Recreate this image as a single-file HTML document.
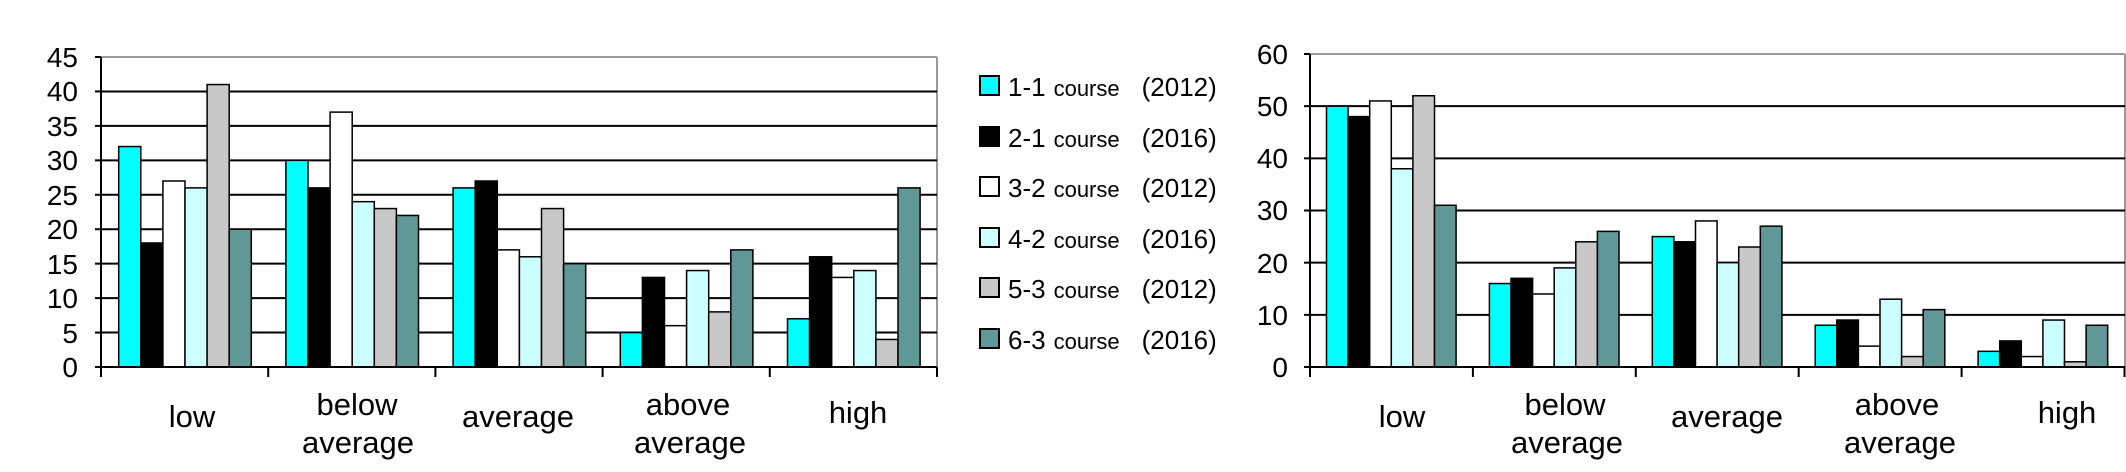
<!DOCTYPE html>
<html><head><meta charset="utf-8"><style>
html,body{margin:0;padding:0;background:#fff;}
svg{display:block;font-family:"Liberation Sans",sans-serif;}
</style></head><body>
<svg id="s" width="2126" height="472" viewBox="0 0 2126 472" xmlns="http://www.w3.org/2000/svg">
<g id="grid"></g>
<g id="bars"></g>
<g font-size="28" text-anchor="end" fill="#000">
<text x="78" y="67">45</text><text x="78" y="101">40</text><text x="78" y="136">35</text><text x="78" y="170">30</text><text x="78" y="205">25</text><text x="78" y="239">20</text><text x="78" y="274">15</text><text x="78" y="308">10</text><text x="78" y="343">5</text><text x="78" y="377">0</text>
<text x="1288" y="64">60</text><text x="1288" y="116">50</text><text x="1288" y="168">40</text><text x="1288" y="220">30</text><text x="1288" y="273">20</text><text x="1288" y="325">10</text><text x="1288" y="377">0</text>
</g>
<g font-size="31" text-anchor="middle" fill="#000">
<text x="192" y="427">low</text>
<text x="357" y="415">below</text><text x="358" y="453">average</text>
<text x="518" y="427">average</text>
<text x="688" y="415">above</text><text x="690" y="453">average</text>
<text x="858" y="423">high</text>
<text x="1402" y="427">low</text>
<text x="1565" y="415">below</text><text x="1567" y="453">average</text>
<text x="1727" y="427">average</text>
<text x="1897" y="415">above</text><text x="1900" y="453">average</text>
<text x="2067" y="423">high</text>
</g>
<g fill="#000">
<rect x="980" y="76" width="19" height="19" fill="#00ffff" stroke="#000" stroke-width="2"/>
<rect x="980" y="127" width="19" height="19" fill="#000" stroke="#000" stroke-width="2"/>
<rect x="980" y="177" width="19" height="19" fill="#fff" stroke="#000" stroke-width="2"/>
<rect x="980" y="228" width="19" height="19" fill="#ccffff" stroke="#000" stroke-width="2"/>
<rect x="980" y="278" width="19" height="19" fill="#c8c8c8" stroke="#000" stroke-width="2"/>
<rect x="980" y="329" width="19" height="19" fill="#5f9896" stroke="#000" stroke-width="2"/>
<text x="1008" y="96" font-size="26">1-1<tspan font-size="22" dx="8">course</tspan><tspan dx="22">(2012)</tspan></text>
<text x="1008" y="147" font-size="26">2-1<tspan font-size="22" dx="8">course</tspan><tspan dx="22">(2016)</tspan></text>
<text x="1008" y="197" font-size="26">3-2<tspan font-size="22" dx="8">course</tspan><tspan dx="22">(2012)</tspan></text>
<text x="1008" y="248" font-size="26">4-2<tspan font-size="22" dx="8">course</tspan><tspan dx="22">(2016)</tspan></text>
<text x="1008" y="298" font-size="26">5-3<tspan font-size="22" dx="8">course</tspan><tspan dx="22">(2012)</tspan></text>
<text x="1008" y="349" font-size="26">6-3<tspan font-size="22" dx="8">course</tspan><tspan dx="22">(2016)</tspan></text>
</g>
</svg>
<script>
var NS="http://www.w3.org/2000/svg";
var grid=document.getElementById('grid'),bars=document.getElementById('bars');
function el(p,t,a){var e=document.createElementNS(NS,t);for(var k in a)e.setAttribute(k,a[k]);p.appendChild(e);return e;}
var cols=["#00ffff","#000000","#ffffff","#ccffff","#c8c8c8","#5f9896"];
function chart(x0,x1,y0,ytop,max,step,cw,off,bw,data){
  var sc=(y0-ytop)/max;
  el(grid,'line',{x1:x0,y1:ytop,x2:x1,y2:ytop,stroke:'#999','stroke-width':2});
  el(grid,'line',{x1:x1,y1:ytop,x2:x1,y2:y0,stroke:'#999','stroke-width':2});
  for(var v=step;v<max;v+=step){var y=y0-v*sc;el(grid,'line',{x1:x0,y1:y,x2:x1,y2:y,stroke:'#000','stroke-width':2});}
  for(var v=0;v<=max;v+=step){var y=y0-v*sc;el(grid,'line',{x1:x0-6,y1:y,x2:x0,y2:y,stroke:'#000','stroke-width':2});}
  for(var c=0;c<5;c++)for(var i=0;i<6;i++){var h=data[c][i]*sc;
    el(bars,'rect',{x:x0+c*cw+off+i*bw,y:y0-h,width:bw,height:h,fill:cols[i],stroke:'#000','stroke-width':1.5});}
  el(bars,'line',{x1:x0,y1:ytop,x2:x0,y2:y0,stroke:'#000','stroke-width':2});
  el(bars,'line',{x1:x0,y1:y0,x2:x1,y2:y0,stroke:'#000','stroke-width':2});
  for(var c=0;c<=5;c++){var x=x0+c*cw;el(bars,'line',{x1:x,y1:y0,x2:x,y2:y0+10,stroke:'#000','stroke-width':2});}
}
chart(101,937,367,57,45,5,167.2,17.7,22.1,[[32,18,27,26,41,20],[30,26,37,24,23,22],[26,27,17,16,23,15],[5,13,6,14,8,17],[7,16,13,14,4,26]]);
chart(1310,2125,367,54,60,10,162.9,16.5,21.6,[[50,48,51,38,52,31],[16,17,14,19,24,26],[25,24,28,20,23,27],[8,9,4,13,2,11],[3,5,2,9,1,8]]);
</script>
</body></html>
